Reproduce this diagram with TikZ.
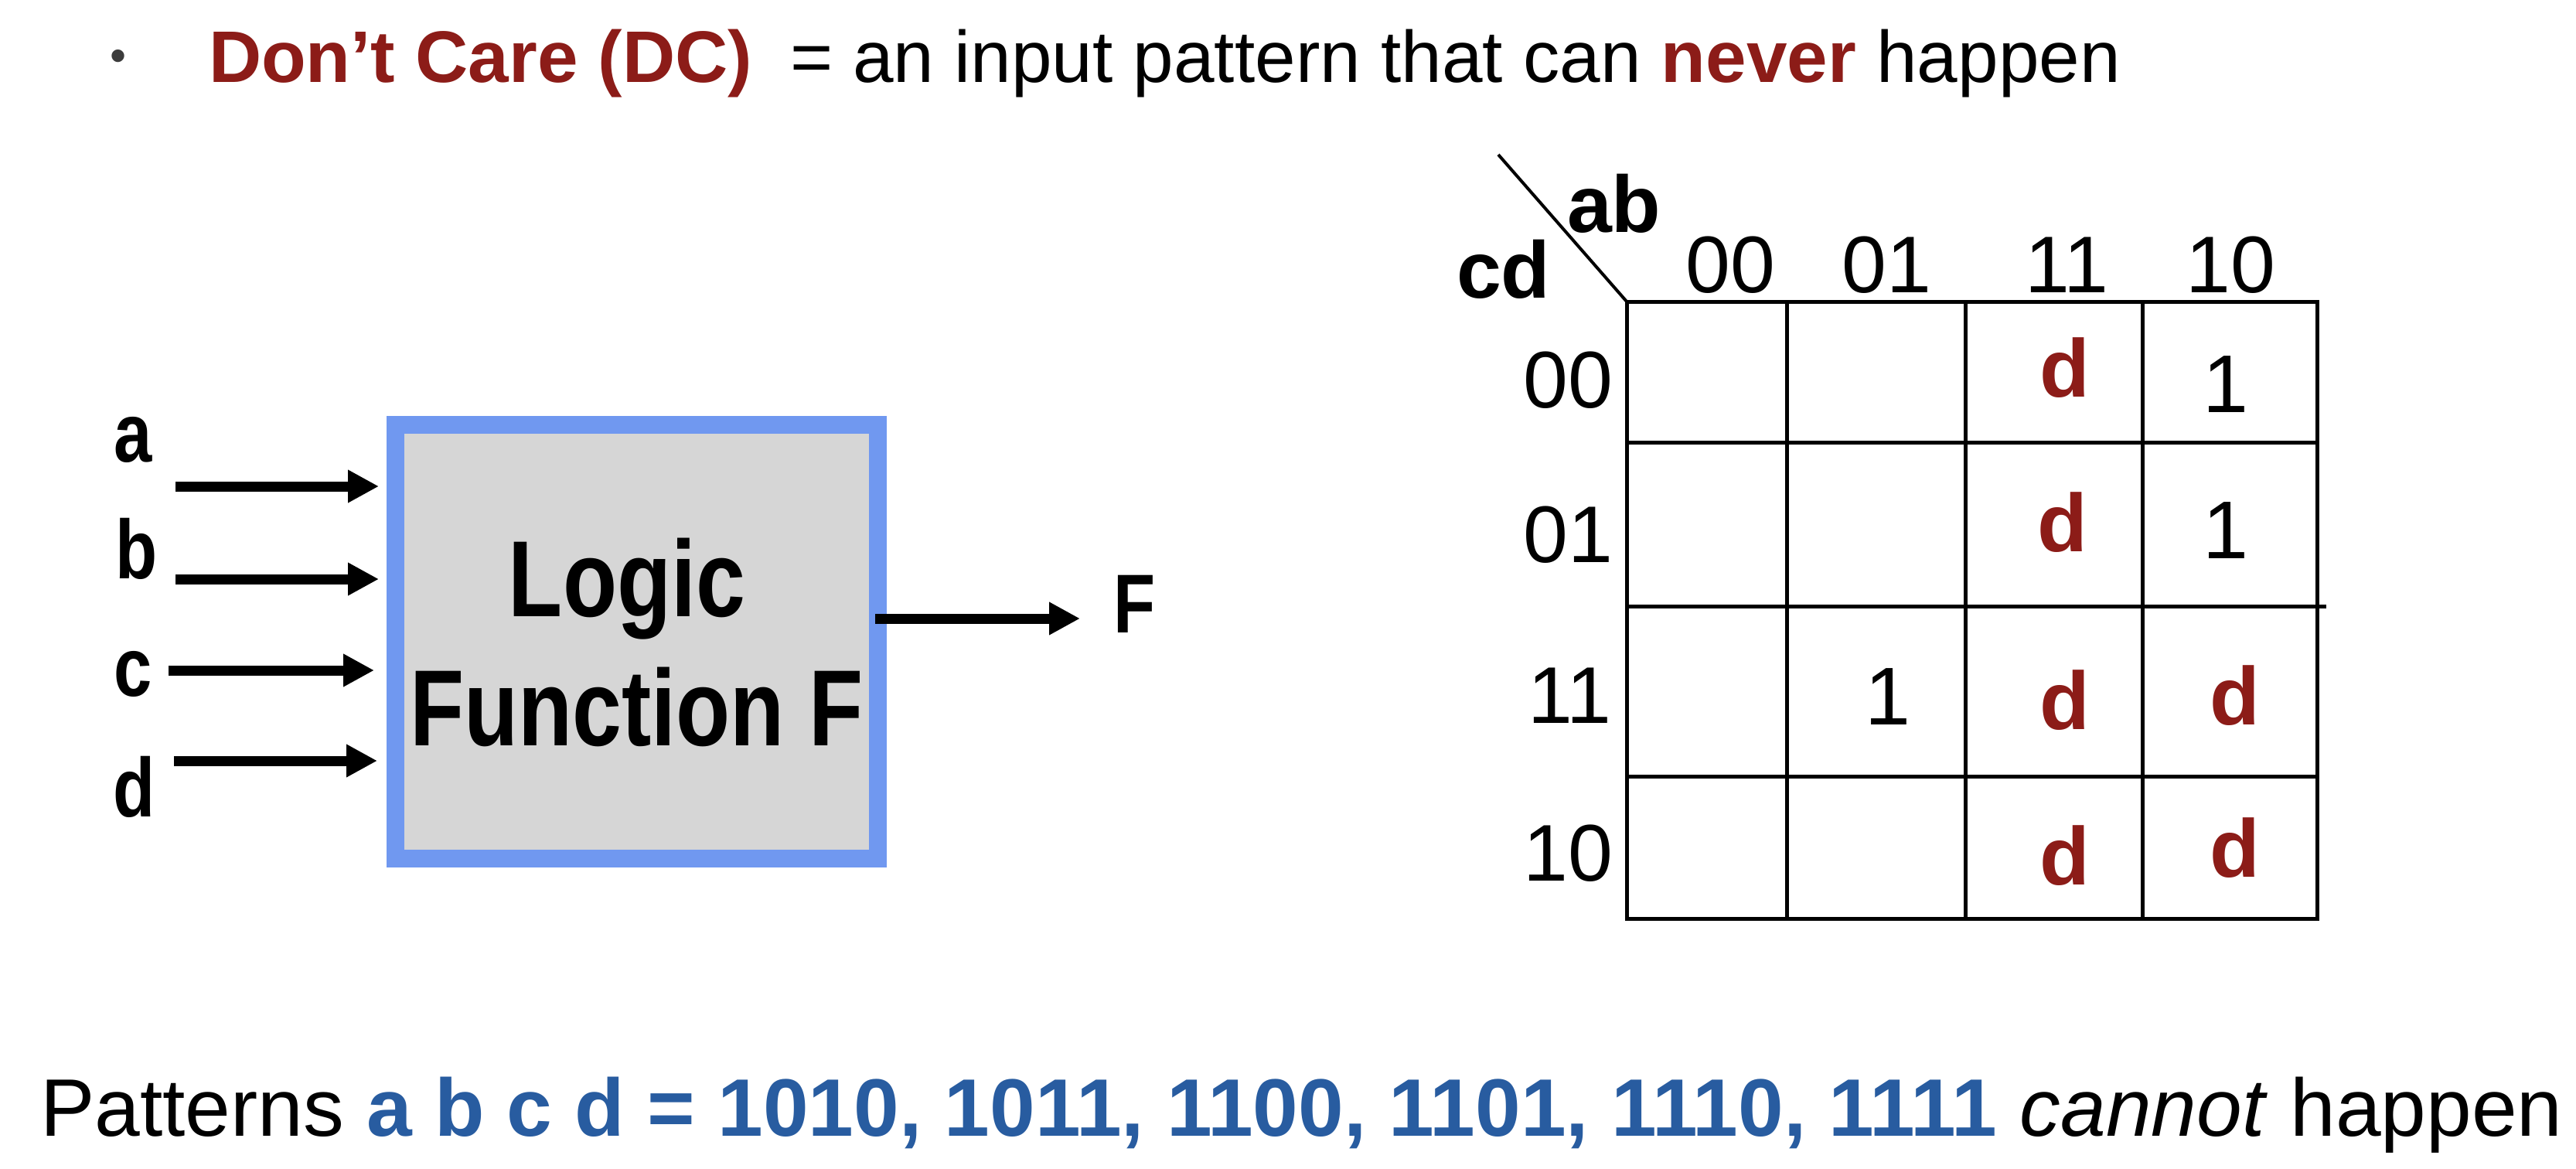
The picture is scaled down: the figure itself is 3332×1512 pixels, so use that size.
\documentclass[tikz,border=0pt]{standalone}
\usepackage{fontspec}
\setmainfont{Liberation Sans}
\newfontfamily\narrowfont{Liberation Sans}[FakeStretch=0.82]
\usetikzlibrary{arrows.meta}
\definecolor{dcred}{RGB}{140,28,24}
\definecolor{patblue}{RGB}{40,92,160}
\definecolor{boxblue}{RGB}{112,152,240}
\definecolor{boxgray}{RGB}{214,214,214}
\definecolor{bulletgray}{RGB}{60,60,60}
\newcommand\myfs[1]{\fontsize{#1}{#1}\selectfont}
\begin{document}
\begin{tikzpicture}[x=1pt,y=-1pt,
  txt/.style={inner sep=0pt,outer sep=0pt,anchor=base},
  ltxt/.style={inner sep=0pt,outer sep=0pt,anchor=base west},
  arr/.style={line width=13pt,-{Triangle[length=40pt,width=40pt]}},
  gridline/.style={line width=5pt,line cap=rect},
  inlabel/.style={txt,font=\narrowfont\bfseries\myfs{108}},
  boxtext/.style={txt,font=\narrowfont\bfseries\myfs{140}},
  hdr/.style={txt,font=\myfs{104}},
  hdrb/.style={ltxt,font=\bfseries\myfs{104}},
  dc/.style={txt,font=\bfseries\myfs{106},text=dcred},
  one/.style={txt,font=\myfs{106}}]
\useasboundingbox[fill=white] (0,0) rectangle (3332,1512);

% top line
\node[font=\myfs{60},text=bulletgray,inner sep=0pt] (bullet) at (153,78) {•};
\node[ltxt,font=\bfseries\myfs{94.5},text=dcred] (dctitle) at (270,106) {Don’t Care (DC)};
\node[ltxt,font=\myfs{94.5}] (dcdef) at (1022,106) {= an input pattern that can \textcolor{dcred}{\bfseries never} happen};

% logic block
\node[draw=boxblue,fill=boxgray,line width=23pt,minimum width=624pt,minimum height=561pt,inner sep=0pt] (box) at (823.5,830) {};
\node[boxtext] (logic) at (811,797) {Logic};
\node[boxtext] (func) at (823.5,964) {Function F};

% inputs
\node[inlabel] (la) at (172,597) {a};
\node[inlabel] (lb) at (177,748) {b};
\node[inlabel] (lc) at (172,900) {c};
\node[inlabel] (ld) at (174,1056) {d};
\coordinate (ia) at (227,629);
\coordinate (ib) at (227,749);
\coordinate (ic) at (218,867);
\coordinate (id) at (225,984);
\draw[arr,shorten >=10pt] (ia) -- (ia -| box.west);
\draw[arr,shorten >=10pt] (ib) -- (ib -| box.west);
\draw[arr,shorten >=16pt] (ic) -- (ic -| box.west);
\draw[arr,shorten >=12pt] (id) -- (id -| box.west);

% output
\coordinate (fout) at (1397,800);
\node[inlabel] (lf) at (1468,818) {F};
\draw[arr] ([xshift=-15pt]box.east |- fout) -- (fout);

% K-map grid
\foreach \x in {2104,2311,2542,2771,2997}
  \draw[gridline] (\x,390) -- (\x,1188);
\foreach \y in {390,572,1004,1188}
  \draw[gridline] (2104,\y) -- (2997,\y);
\draw[gridline] (2104,784) -- (3006,784);
\draw[line width=4pt] (1938,200) -- (2104,390);

\node[hdrb] (ab) at (2027,300) {ab};
\node[hdrb] (cd) at (1884,385) {cd};

% column headers
\node[hdr] (c00) at (2238,378) {00};
\node[hdr] (c01) at (2440,378) {01};
\node[hdr] (c11) at (2673,378) {11};
\node[hdr] (c10) at (2885,378) {10};

% row headers
\node[hdr,anchor=base east] (r00) at (2086,527) {00};
\node[hdr,anchor=base east] (r01) at (2086,727) {01};
\node[hdr,anchor=base east] (r11) at (2084,935) {11};
\node[hdr,anchor=base east] (r10) at (2086,1139) {10};

% cells
\node[dc] (m12) at (2671,513) {d};
\node[one] (m8) at (2879,533) {1};
\node[dc] (m13) at (2668,713) {d};
\node[one] (m9) at (2879,722) {1};
\node[one] (m7) at (2442,937) {1};
\node[dc] (m15) at (2671,943) {d};
\node[dc] (m11) at (2891,937) {d};
\node[dc] (m14) at (2671,1144) {d};
\node[dc] (m10) at (2891,1134) {d};

% bottom line
\node[ltxt,font=\myfs{105.5}] (patterns) at (52,1469) {Patterns \textcolor{patblue}{\bfseries a b c d = 1010, 1011, 1100, 1101, 1110, 1111} \textit{cannot} happen};
\end{tikzpicture}
\end{document}
